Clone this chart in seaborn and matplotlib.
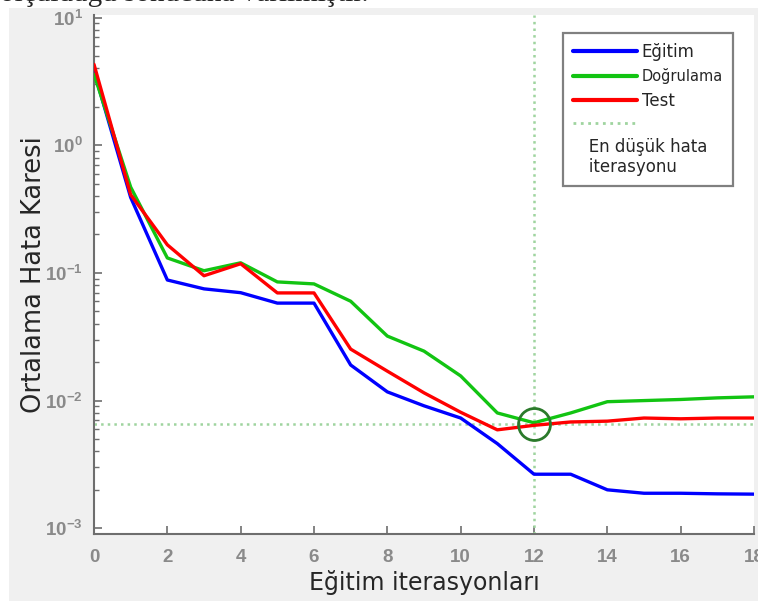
import numpy as np
import pandas as pd
import matplotlib
matplotlib.use("Agg")
import matplotlib.pyplot as plt
from matplotlib.lines import Line2D
from matplotlib.patches import Rectangle
from matplotlib.ticker import LogLocator, NullFormatter
import seaborn as sns

# values
iterations = list(range(19))
egitim = [3.8, 0.39, 0.088, 0.075, 0.070, 0.058, 0.058, 0.019, 0.0117, 0.0091,
          0.0073, 0.0046, 0.00265, 0.00265, 0.0020, 0.00188, 0.00188, 0.00186, 0.00185]
dogrulama = [3.6, 0.47, 0.131, 0.104, 0.120, 0.085, 0.082, 0.060, 0.032, 0.0244,
             0.0156, 0.0080, 0.0067, 0.0080, 0.0098, 0.0100, 0.0102, 0.0105, 0.0107]
test = [4.3, 0.41, 0.166, 0.095, 0.118, 0.0697, 0.0697, 0.0253, 0.017, 0.0115,
        0.0081, 0.0059, 0.0064, 0.0068, 0.0069, 0.0073, 0.0072, 0.0073, 0.0073]
series_names = ["Eğitim", "Doğrulama", "Test"]
series_colors = ["#0000ff", "#12c412", "#ff0000"]
best_iter = 12
best_err = 0.0065
x_ticks = list(range(0, 19, 2))

df = pd.DataFrame({
    "iter": iterations * 3,
    "mse": egitim + dogrulama + test,
    "set": sum([[n] * len(iterations) for n in series_names], []),
})

sns.set_style("ticks")
plt.rcParams["font.family"] = ["DejaVu Sans"]
plt.rcParams["mathtext.default"] = "regular"

W, H = 758, 601
fig = plt.figure(figsize=(W / 100, H / 100), dpi=100, facecolor="white")
# grey window background (screenshot look)
fig.add_artist(Rectangle((9 / W, 0), 1 - 9 / W, 1 - 8 / H, transform=fig.transFigure,
                         facecolor="#f0f0f0", edgecolor="none", zorder=-10))
fig.text(0.0, 1 - 1 / H, "ölçüldüğü sonucuna varılmıştır.", fontsize=21,
         family="Liberation Serif", va="baseline", ha="left")

ax = fig.add_axes([94 / W, 1 - 534 / H, (754 - 94) / W, (534 - 15) / H])
ax.set_facecolor("white")

# reference lines for the lowest validation error
ax.axvline(best_iter, color="#9fd49f", ls=":", lw=1.8, zorder=1)
ax.axhline(best_err, color="#9fd49f", ls=":", lw=1.8, zorder=1)

sns.lineplot(data=df, x="iter", y="mse", hue="set", hue_order=series_names,
             palette=dict(zip(series_names, series_colors)), linewidth=2.4,
             legend=False, ax=ax, zorder=3)

ax.plot(best_iter, best_err, marker="o", ms=23, mfc="none", mec="#2b7a2b",
        mew=2, zorder=4)

ax.set_yscale("log")
ax.set_xlim(0, 18)
ax.set_ylim(10 ** -3.045, 10 ** 1.02)
ax.set_xticks(x_ticks)
ax.yaxis.set_major_locator(LogLocator(base=10, numticks=10))
ax.yaxis.set_minor_locator(LogLocator(base=10, subs=np.arange(2, 10), numticks=20))
ax.yaxis.set_minor_formatter(NullFormatter())

for s in ["top", "right"]:
    ax.spines[s].set_visible(False)
for s in ["left", "bottom"]:
    ax.spines[s].set_color("#6e6e6e")
    ax.spines[s].set_linewidth(1.5)

ax.tick_params(axis="both", which="major", direction="in", length=6, width=1.2,
               colors="#6e6e6e", labelcolor="#8a8a8a", labelsize=13.5)
ax.tick_params(axis="x", which="major", pad=11)
ax.tick_params(axis="y", which="major", pad=8)
ax.tick_params(axis="y", which="minor", direction="in", length=3.5, width=1,
               colors="#6e6e6e")
for lbl in ax.get_xticklabels() + ax.get_yticklabels():
    lbl.set_fontweight("bold")
    lbl.set_family("Liberation Sans")

ax.set_xlabel("Eğitim iterasyonları", fontsize=17, labelpad=3)
ax.set_ylabel("Ortalama Hata Karesi", fontsize=18.5, labelpad=-1)

handles = [Line2D([], [], color=c, lw=3) for c in series_colors]
handles += [Line2D([], [], color="#9fd49f", ls=":", lw=2),
            Line2D([], [], alpha=0)]
labels = series_names + ["", "   En düşük hata\n   iterasyonu"]
leg = ax.legend(handles, labels, loc="upper right",
                bbox_to_anchor=((733 - 94) / 660, (534 - 33) / 519),
                borderaxespad=0, fontsize=12, handlelength=3.85,
                handletextpad=0.3, labelspacing=0.45, borderpad=0.6,
                frameon=True, fancybox=False, framealpha=1)
leg.get_frame().set_edgecolor("#808080")
leg.get_frame().set_linewidth(1.6)
leg.get_texts()[1].set_fontsize(10.5)
leg.get_texts()[3].set_fontsize(5)
# text of the last entry sits under the dotted handle, without its own handle
rows = leg._legend_handle_box.get_children()[0].get_children()
rows[-1].get_children().pop(0)

fig.savefig("out.png", dpi=100, facecolor=fig.get_facecolor())
